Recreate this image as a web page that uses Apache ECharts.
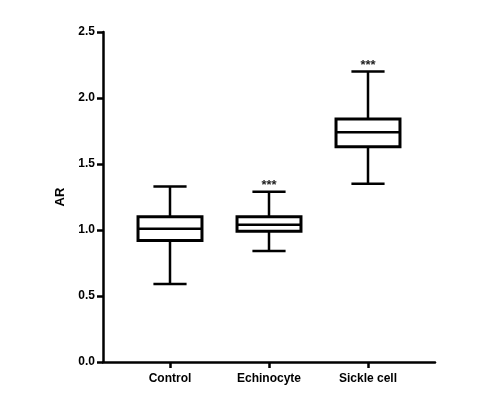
<!DOCTYPE html>
<html>
<head>
<meta charset="utf-8">
<script src="https://cdn.jsdelivr.net/npm/echarts@6/dist/echarts.min.js"></script>
<style>html,body{margin:0;padding:0;background:#fff}#c{width:489px;height:398px}</style>
</head>
<body>
<div id="c"></div>
<script>
const categories = ['Control', 'Echinocyte', 'Sickle cell'];
// [min, Q1, median, Q3, max]
const controlBox = [0.59, 0.92, 1.01, 1.10, 1.33];
const echinocyteBox = [0.84, 0.99, 1.04, 1.10, 1.29];
const sickleBox = [1.35, 1.63, 1.74, 1.84, 2.20];
const significance = ['', '***', '***'];

const boxes = [controlBox, echinocyteBox, sickleBox];
const seriesData = boxes.map((b, i) => [i].concat(b));

const FONT = '"Liberation Sans", Arial, sans-serif';
const chart = echarts.init(document.getElementById('c'));
const gridTop = 32, gridBottom = 36;

chart.setOption({
  animation: false,
  backgroundColor: '#fff',
  grid: [
    { left: 103, right: 54, top: gridTop, bottom: gridBottom },
    { left: 120.5, right: 71.5, top: gridTop, bottom: gridBottom }
  ],
  xAxis: [
    { type: 'value', gridIndex: 0, min: 0, max: 1, splitLine: { show: false },
      axisLine: { show: true, lineStyle: { color: '#000', width: 2.5 } },
      axisTick: { show: false }, axisLabel: { show: false } },
    { type: 'category', gridIndex: 1, data: categories,
      axisLine: { show: false },
      axisTick: { show: true, alignWithLabel: true, length: 6, lineStyle: { color: '#000', width: 2.5 } },
      axisLabel: { color: '#000', fontFamily: FONT, fontWeight: 'bold', fontSize: 12, margin: 11 } }
  ],
  yAxis: [
    { type: 'value', gridIndex: 0, min: 0, max: 2.5, interval: 0.5,
      name: 'AR', nameLocation: 'middle', nameGap: 31,
      nameTextStyle: { color: '#000', fontFamily: FONT, fontWeight: 'bold', fontSize: 13 },
      splitLine: { show: false },
      axisLine: { show: true, lineStyle: { color: '#000', width: 2.5 } },
      axisTick: { show: true, length: 6, lineStyle: { color: '#000', width: 2.5 } },
      axisLabel: { color: '#000', fontFamily: FONT, fontWeight: 'bold', fontSize: 12, margin: 8,
        formatter: v => v.toFixed(1) } },
    { type: 'value', gridIndex: 1, min: 0, max: 2.5, show: false }
  ],
  series: [{
    type: 'custom',
    xAxisIndex: 1, yAxisIndex: 1,
    data: seriesData,
    renderItem: function (params, api) {
      const i = api.value(0);
      const pLo = api.coord([i, api.value(1)]);
      const pQ1 = api.coord([i, api.value(2)]);
      const pMed = api.coord([i, api.value(3)]);
      const pQ3 = api.coord([i, api.value(4)]);
      const pHi = api.coord([i, api.value(5)]);
      const band = api.size([1, 0])[0];
      const bw = band * 0.646;
      const cw = band * 0.335;
      const cx = pMed[0];
      const stLine = { stroke: '#000', lineWidth: 2.5 };
      const children = [
        { type: 'line', shape: { x1: cx, y1: pHi[1], x2: cx, y2: pQ3[1] }, style: stLine },
        { type: 'line', shape: { x1: cx, y1: pLo[1], x2: cx, y2: pQ1[1] }, style: stLine },
        { type: 'line', shape: { x1: cx - cw / 2, y1: pHi[1], x2: cx + cw / 2, y2: pHi[1] }, style: stLine },
        { type: 'line', shape: { x1: cx - cw / 2, y1: pLo[1], x2: cx + cw / 2, y2: pLo[1] }, style: stLine },
        { type: 'rect', shape: { x: cx - bw / 2, y: pQ3[1], width: bw, height: pQ1[1] - pQ3[1] }, style: { stroke: '#000', lineWidth: 3, fill: '#fff' } },
        { type: 'line', shape: { x1: cx - bw / 2, y1: pMed[1], x2: cx + bw / 2, y2: pMed[1] }, style: stLine }
      ];
      const s = significance[i];
      if (s) {
        children.push({ type: 'text', x: cx, y: pHi[1] - 6,
          style: { text: s, fill: '#222', font: 'bold 13px ' + FONT, textAlign: 'center', textVerticalAlign: 'middle' } });
      }
      return { type: 'group', children: children };
    }
  }]
});
</script>
</body>
</html>
